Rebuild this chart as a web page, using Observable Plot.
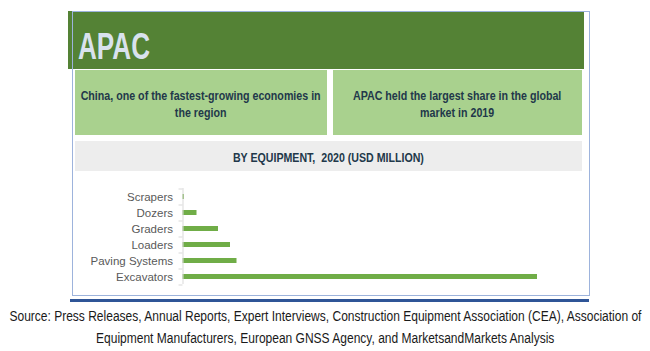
<!DOCTYPE html>
<html>
<head>
<meta charset="utf-8">
<script src="https://cdn.jsdelivr.net/npm/d3@7"></script>
<script src="https://cdn.jsdelivr.net/npm/@observablehq/plot@0.6"></script>
<style>
  html, body { margin: 0; padding: 0; background: #fff; }
  body { width: 650px; height: 351px; position: relative; overflow: hidden; font-family: "Liberation Sans", Arial, sans-serif; }
  .abs { position: absolute; box-sizing: border-box; }
  #header { left: 68px; top: 11px; width: 516px; height: 58px; background: #548235; }
  #apac { left: 78px; top: 27px; font-weight: bold; font-size: 36px; color: #d9e2ee; line-height: 40px; transform-origin: left top; white-space: nowrap; }
  .box { top: 70px; height: 65px; padding-top: 4px; background: #a9d18e; display: flex; align-items: center; justify-content: center; text-align: center; font-weight: bold; font-size: 12.5px; line-height: 17px; color: #22384a; }
  .inner { white-space: nowrap; transform-origin: center center; }
  #box1 { left: 75px; width: 252px; }
  #box2 { left: 333px; width: 249px; }
  #gray { left: 75px; top: 141px; width: 507px; height: 30px; padding-top: 3px; background: #ededed; display: flex; align-items: center; justify-content: center; font-weight: bold; font-size: 12.5px; color: #22384a; }
  #gray span { white-space: pre; display: inline-block; transform-origin: center center; }
  #frame { left: 72px; top: 11px; width: 518px; height: 285px; border: 1px solid #9db3dc; }
  #thick { left: 70px; top: 299px; width: 519px; height: 3px; background: #2f5597; }
  #chart { left: 60px; top: 180px; }
  #source { left: 0px; top: 305px; width: 650px; font-size: 14px; line-height: 22px; color: #1a1a1a; }
  #source .line { display: flex; justify-content: center; width: 650px; }
  #source span { display: inline-block; flex: none; white-space: nowrap; transform-origin: center center; }
</style>
</head>
<body>
<div id="header" class="abs"></div>
<div id="apac" class="abs"></div>
<div id="box1" class="abs box"></div>
<div id="box2" class="abs box"></div>
<div id="gray" class="abs"></div>
<div id="chart" class="abs"></div>
<div id="frame" class="abs"></div>
<div id="thick" class="abs"></div>
<div id="source" class="abs"></div>
<script>
// ---- Data ----
const regionTitle = "APAC";
const highlightLeft = ["China, one of the fastest-growing economies in", "the region"];
const highlightRight = ["APAC held the largest share in the global", "market in 2019"];
const chartTitle = "BY EQUIPMENT,  2020 (USD MILLION)";
const categories = ["Scrapers", "Dozers", "Graders", "Loaders", "Paving Systems", "Excavators"];
const values = [1.5, 14, 35.5, 47.5, 54, 354.5];
const sourceLines = [
  "Source: Press Releases, Annual Reports, Expert Interviews, Construction Equipment Association (CEA), Association of",
  "Equipment Manufacturers, European GNSS Agency, and MarketsandMarkets Analysis"
];

// ---- helpers: condense text to the reference's narrow typeface ----
function scaleTo(el, target) {
  return target / el.getBoundingClientRect().width;
}

// Title
const apac = document.getElementById("apac");
apac.textContent = regionTitle;
apac.style.transform = `scaleX(${scaleTo(apac, 72)})`;

// Highlight boxes
function fillBox(id, lines) {
  const box = document.getElementById(id);
  const inner = document.createElement("div");
  inner.className = "inner";
  lines.forEach(l => { const d = document.createElement("div"); d.textContent = l; inner.appendChild(d); });
  box.appendChild(inner);
  return inner;
}
const in1 = fillBox("box1", highlightLeft);
const in2 = fillBox("box2", highlightRight);
const boxScale = scaleTo(in1, 240);
in1.style.transform = `scaleX(${boxScale})`;
in2.style.transform = `scaleX(${boxScale})`;

// Gray chart title
const gspan = document.createElement("span");
gspan.textContent = chartTitle;
document.getElementById("gray").appendChild(gspan);
gspan.style.transform = `scaleX(${scaleTo(gspan, 191)})`;

// Source
const src = document.getElementById("source");
const spans = sourceLines.map(s => {
  const div = document.createElement("div");
  div.className = "line";
  const sp = document.createElement("span");
  sp.textContent = s;
  div.appendChild(sp);
  src.appendChild(div);
  return sp;
});
const srcScale = scaleTo(spans[0], 632);
spans.forEach(sp => sp.style.transform = `scaleX(${srcScale})`);

// ---- Chart ----
const data = categories.map((c, i) => ({equipment: c, value: values[i]}));
const gridColor = "#d9d9d9";
const chart = Plot.plot({
  width: 540,
  height: 110,
  marginLeft: 122.5,
  marginRight: 63,
  marginTop: 8,
  marginBottom: 6,
  style: {background: "transparent", fontFamily: "Liberation Sans, Arial, sans-serif", fontSize: "11.5px", overflow: "visible"},
  x: {domain: [0, d3.max(values)], axis: null},
  y: {domain: categories, paddingInner: 0.7, paddingOuter: 0.35, label: null},
  marks: [
    Plot.barX(data, {x: "value", y: "equipment", fill: "#70ad47"}),
    Plot.ruleX([0], {stroke: gridColor}),
    Plot.axisY({tickSize: 4, tickFormat: () => "", dy: -8, stroke: gridColor, label: null}),
    Plot.axisY([categories[categories.length - 1]], {tickSize: 4, tickFormat: () => "", dy: 8, stroke: gridColor, label: null}),
    Plot.axisY({tickSize: 0, tickPadding: 10, fill: "#595959", fontSize: 11.5, label: null})
  ]
});
document.getElementById("chart").appendChild(chart);
</script>
</body>
</html>
